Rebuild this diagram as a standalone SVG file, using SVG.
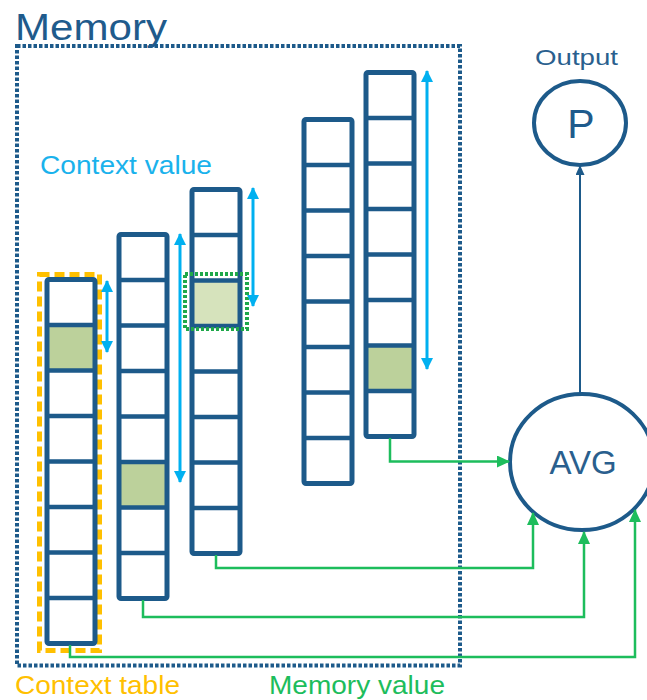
<svg xmlns="http://www.w3.org/2000/svg" width="647" height="700" viewBox="0 0 647 700">
<style>
text{font-family:"Liberation Sans",Arial,sans-serif}
.col{fill:none;stroke:#1d5a8a;stroke-width:5;stroke-linejoin:round}
.hit{fill:#bcd19b}
.hit2{fill:#d6e3bc}
.blue{fill:none;stroke:#00b0f0;stroke-width:3}
.green{fill:none;stroke:#1dbd5c;stroke-width:2.5}
.node{fill:#fff;stroke:#1d5a8a;stroke-width:4}
</style>
<defs>
<marker id="ab" markerUnits="userSpaceOnUse" viewBox="0 0 12 12" refX="11" refY="6" markerWidth="12" markerHeight="12" orient="auto-start-reverse"><path d="M0,0 L12,6 L0,12 z" fill="#00b0f0"/></marker>
<marker id="ag" markerUnits="userSpaceOnUse" viewBox="0 0 13 12" refX="12" refY="6" markerWidth="13" markerHeight="12" orient="auto"><path d="M0,0 L13,6 L0,12 z" fill="#1dbd5c"/></marker>
<marker id="ad" markerUnits="userSpaceOnUse" viewBox="0 0 10 9" refX="9" refY="4.5" markerWidth="10" markerHeight="9" orient="auto"><path d="M0,0 L10,4.5 L0,9 z" fill="#1d5a8a"/></marker>
</defs>
<rect width="647" height="700" fill="#fff"/>

<g id="memory">
<rect x="17" y="46" width="443" height="619.5" fill="none" stroke="#1d5a8a" stroke-width="4" stroke-dasharray="3.5 2"/>
<text x="15" y="40" font-size="36" fill="#1f5b8c" textLength="152" lengthAdjust="spacingAndGlyphs">Memory</text>
</g>

<g id="context-table">
<rect x="39.5" y="274.5" width="60" height="376" fill="none" stroke="#ffc000" stroke-width="5" stroke-dasharray="10 5"/>
<rect x="47" y="279.5" width="48" height="364" fill="#fff"/>
<rect class="hit" x="47" y="325" width="48" height="45.5"/>
<path d="M47,325H95M47,370.5H95M47,416H95M47,461.5H95M47,507H95M47,552.5H95M47,598H95" stroke="#1d5a8a" stroke-width="4.5"/>
<rect class="col" x="47" y="279.5" width="48" height="364" rx="2"/>
</g>

<g id="column-2">
<rect x="119" y="234.5" width="48" height="364" fill="#fff"/>
<rect class="hit" x="119" y="462" width="48" height="45.5"/>
<path d="M119,280H167M119,325.5H167M119,371H167M119,416.5H167M119,462H167M119,507.5H167M119,553H167" stroke="#1d5a8a" stroke-width="4.5"/>
<rect class="col" x="119" y="234.5" width="48" height="364" rx="2"/>
</g>

<g id="column-3">
<rect x="192" y="189.5" width="48" height="364" fill="#fff"/>
<rect class="hit2" x="192" y="280.5" width="48" height="45.5"/>
<path d="M192,235H240M192,280.5H240M192,326H240M192,371.5H240M192,417H240M192,462.5H240M192,508H240" stroke="#1d5a8a" stroke-width="4.5"/>
<rect class="col" x="192" y="189.5" width="48" height="364" rx="2"/>
<rect x="185" y="274" width="62" height="55" fill="none" stroke="#1fa84a" stroke-width="4" stroke-dasharray="3 2"/>
</g>

<g id="column-4">
<rect x="304" y="119.5" width="48" height="364" fill="#fff"/>
<path d="M304,165H352M304,210.5H352M304,256H352M304,301.5H352M304,347H352M304,392.5H352M304,438H352" stroke="#1d5a8a" stroke-width="4.5"/>
<rect class="col" x="304" y="119.5" width="48" height="364" rx="2"/>
</g>

<g id="column-5">
<rect x="366" y="72.5" width="48" height="364" fill="#fff"/>
<rect class="hit" x="366" y="345.5" width="48" height="45.5"/>
<path d="M366,118H414M366,163.5H414M366,209H414M366,254.5H414M366,300H414M366,345.5H414M366,391H414" stroke="#1d5a8a" stroke-width="4.5"/>
<rect class="col" x="366" y="72.5" width="48" height="364" rx="2"/>
</g>

<g id="avg">
<ellipse class="node" cx="582" cy="462" rx="72" ry="68"/>
<text x="583" y="474" font-size="33" fill="#2a5f8e" text-anchor="middle">AVG</text>
</g>

<g id="output">
<ellipse class="node" cx="580" cy="123" rx="46" ry="42"/>
<text x="581" y="138" font-size="41" fill="#1f5b8c" text-anchor="middle">P</text>
<text x="535" y="65" font-size="22" fill="#2a5f8e" textLength="83" lengthAdjust="spacingAndGlyphs">Output</text>
</g>

<g id="labels">
<text x="40" y="174" font-size="26" fill="#1ab2ec" textLength="172" lengthAdjust="spacingAndGlyphs">Context value</text>
<text x="15" y="694" font-size="25" fill="#ffc000" textLength="165" lengthAdjust="spacingAndGlyphs">Context table</text>
<text x="269" y="694" font-size="25" fill="#1dbd5c" textLength="176" lengthAdjust="spacingAndGlyphs">Memory value</text>
</g>

<g id="connectors">
<line class="blue" x1="107" y1="281" x2="107" y2="352" marker-start="url(#ab)" marker-end="url(#ab)"/>
<line class="blue" x1="180" y1="234" x2="180" y2="482" marker-start="url(#ab)" marker-end="url(#ab)"/>
<line class="blue" x1="253" y1="188" x2="253" y2="306" marker-start="url(#ab)" marker-end="url(#ab)"/>
<line class="blue" x1="427" y1="71" x2="427" y2="369" marker-start="url(#ab)" marker-end="url(#ab)"/>
<polyline class="green" points="390,438 390,461.5 509,461.5" marker-end="url(#ag)"/>
<polyline class="green" points="216,555 216,568 533,568 533,513" marker-end="url(#ag)"/>
<polyline class="green" points="143,600 143,617 584,617 584,532" marker-end="url(#ag)"/>
<polyline class="green" points="70,645 70,657 635,657 635,510" marker-end="url(#ag)"/>
<line x1="580" y1="394" x2="580" y2="166" stroke="#1d5a8a" stroke-width="2" marker-end="url(#ad)"/>
</g>
</svg>
